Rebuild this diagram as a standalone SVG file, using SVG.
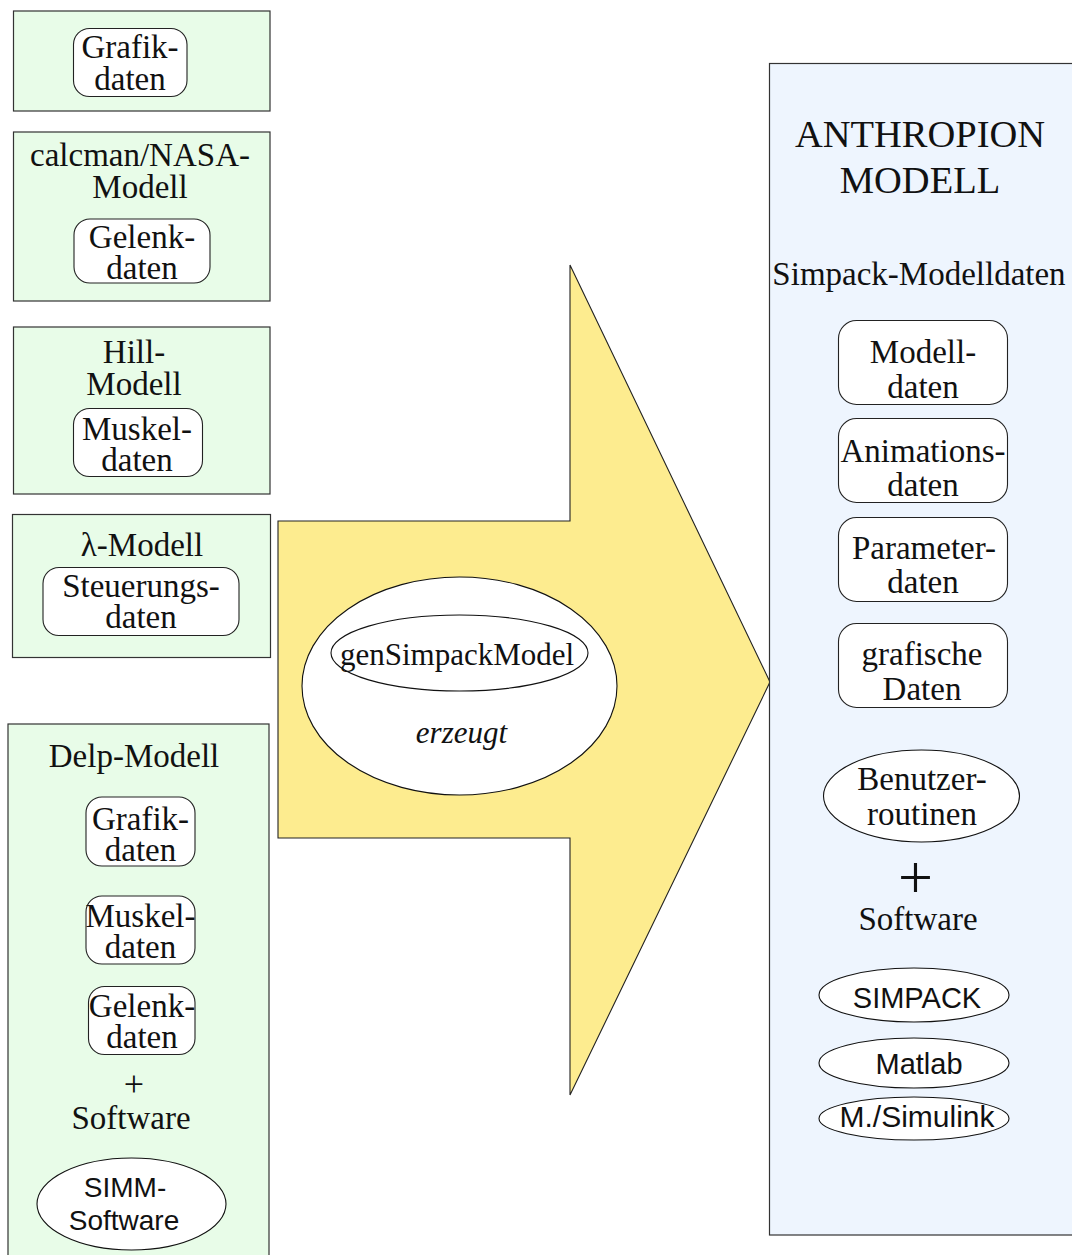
<svg xmlns="http://www.w3.org/2000/svg" width="1072" height="1255" viewBox="0 0 1072 1255">
<style>
.grp{fill:#E8FCE8;stroke:#333;stroke-width:1.2}
.blue{fill:#EEF5FE;stroke:#333;stroke-width:1.2}
.box{fill:#fff;stroke:#222;stroke-width:1.1}
.ell{fill:#fff;stroke:#111;stroke-width:1.1}
.arrow{fill:#FDEC8F;stroke:#222;stroke-width:1.1}
text{font-family:"Liberation Serif","Times New Roman",serif;font-size:33px;fill:#111;text-anchor:middle}
.sans{font-family:"Liberation Sans",Arial,sans-serif;font-size:29px}
.it{font-style:italic;font-size:31px}
.big{font-size:38.5px}
</style>
<rect width="1072" height="1255" fill="#fff"/>
<g id="connectors">
<polygon class="arrow" points="278,521 570,521 570,265 770,682 570,1095 570,838 278,838"/>
</g>
<g id="grafik-box">
<rect class="grp" x="13.5" y="11" width="256.5" height="100"/>
<rect class="box" x="73.5" y="28.5" width="113.5" height="68" rx="16"/>
<text x="130" y="58">Grafik-</text>
<text x="130" y="90">daten</text>
</g>
<g id="calcman-box">
<rect class="grp" x="13.5" y="132" width="256.5" height="169"/>
<text x="140" y="166">calcman/NASA-</text>
<text x="140" y="198">Modell</text>
<rect class="box" x="74" y="219" width="136" height="64" rx="16"/>
<text x="142" y="248">Gelenk-</text>
<text x="142" y="279">daten</text>
</g>
<g id="hill-box">
<rect class="grp" x="13.5" y="327" width="256.5" height="167"/>
<text x="134" y="363">Hill-</text>
<text x="134" y="395">Modell</text>
<rect class="box" x="73.5" y="408.5" width="129" height="68" rx="16"/>
<text x="137" y="440">Muskel-</text>
<text x="137" y="471">daten</text>
</g>
<g id="lambda-box">
<rect class="grp" x="12.5" y="514.5" width="258" height="143"/>
<text x="142" y="556">λ-Modell</text>
<rect class="box" x="43" y="567.5" width="196" height="68" rx="16"/>
<text x="141" y="597">Steuerungs-</text>
<text x="141" y="628">daten</text>
</g>
<g id="delp-box">
<rect class="grp" x="8" y="724" width="261" height="545"/>
<text x="134" y="767">Delp-Modell</text>
<rect class="box" x="86" y="797" width="109" height="69" rx="16"/>
<text x="140.5" y="830">Grafik-</text>
<text x="140.5" y="861">daten</text>
<rect class="box" x="86" y="896" width="109" height="68" rx="16"/>
<text x="140.5" y="927">Muskel-</text>
<text x="140.5" y="958">daten</text>
<rect class="box" x="88.5" y="986.5" width="106.5" height="68" rx="16"/>
<text x="142" y="1017">Gelenk-</text>
<text x="142" y="1048">daten</text>
<text x="134" y="1096" style="font-size:36px">+</text>
<text x="131" y="1129">Software</text>
<ellipse class="ell" cx="131.5" cy="1204" rx="94.5" ry="46"/>
<text class="sans" x="125" y="1197" style="font-size:28px">SIMM-</text>
<text class="sans" x="124" y="1230" style="font-size:28px">Software</text>
</g>
<g id="generator">
<ellipse class="ell" cx="459.5" cy="686" rx="157.5" ry="109"/>
<ellipse class="ell" cx="459.5" cy="653" rx="128.5" ry="38"/>
<text x="457" y="665" style="font-size:31px">genSimpackModel</text>
<text class="it" x="461.5" y="743">erzeugt</text>
</g>
<g id="anthropion-box">
<rect class="blue" x="769.5" y="63.5" width="310" height="1171.5"/>
<text class="big" x="920" y="147">ANTHROPION</text>
<text class="big" x="920" y="193">MODELL</text>
<text x="919" y="285">Simpack-Modelldaten</text>
<rect class="box" x="838.5" y="320.5" width="169" height="84" rx="18"/>
<text x="923" y="363">Modell-</text>
<text x="923" y="398">daten</text>
<rect class="box" x="838.5" y="418.5" width="169" height="84" rx="18"/>
<text x="923" y="462">Animations-</text>
<text x="923" y="496">daten</text>
<rect class="box" x="838.5" y="517.5" width="169" height="84" rx="18"/>
<text x="924" y="559">Parameter-</text>
<text x="923" y="593">daten</text>
<rect class="box" x="838.5" y="623.5" width="169" height="84" rx="18"/>
<text x="922" y="665">grafische</text>
<text x="922" y="700">Daten</text>
<ellipse class="ell" cx="921.5" cy="796" rx="98" ry="46"/>
<text x="922" y="790">Benutzer-</text>
<text x="922" y="825">routinen</text>
<text x="915.5" y="898" style="font-size:62px">+</text>
<text x="918" y="930">Software</text>
<ellipse class="ell" cx="914" cy="995" rx="95" ry="27"/>
<text class="sans" x="917" y="1008">SIMPACK</text>
<ellipse class="ell" cx="914" cy="1063" rx="95" ry="25"/>
<text class="sans" x="919" y="1074">Matlab</text>
<ellipse class="ell" cx="914" cy="1118.5" rx="95" ry="21.5"/>
<text class="sans" x="917" y="1127" style="font-size:30px">M./Simulink</text>
</g>
</svg>
